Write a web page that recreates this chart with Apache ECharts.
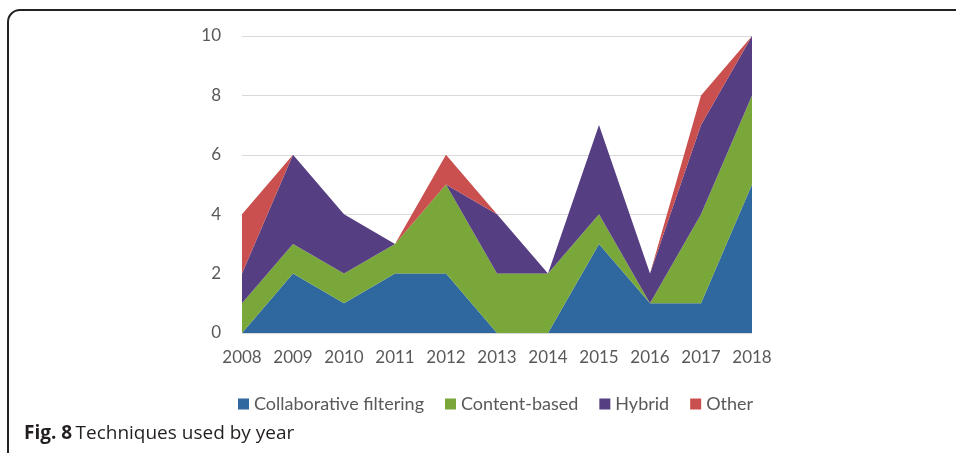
<!DOCTYPE html>
<html>
<head>
<meta charset="utf-8">
<script src="https://cdn.jsdelivr.net/npm/echarts@6/dist/echarts.min.js"></script>
<style>
  html, body { margin: 0; padding: 0; background: #fff; }
  #chart { width: 956px; height: 453px; }
</style>
</head>
<body>
<div id="chart"></div>
<script>
// Publications per year, split by recommendation technique (stacked)
const years = ['2008', '2009', '2010', '2011', '2012', '2013', '2014', '2015', '2016', '2017', '2018'];
const collaborative = [0, 2, 1, 2, 2, 0, 0, 3, 1, 1, 5];
const contentBased  = [1, 1, 1, 1, 3, 2, 2, 1, 0, 3, 3];
const hybrid        = [1, 3, 2, 0, 0, 2, 0, 3, 1, 3, 2];
const other         = [2, 0, 0, 0, 1, 0, 0, 0, 0, 1, 0];
const yTicks = { min: 0, max: 10, interval: 2 };

const font = 'Lato, "Open Sans", sans-serif';
const captionFont = '"Open Sans", "Noto Sans", sans-serif';
const colors = ['#2f679f', '#7aa73a', '#563e82', '#c9504e'];

function areaSeries(name, data, color) {
  return {
    name: name,
    type: 'line',
    stack: 'total',
    data: data,
    symbol: 'none',
    lineStyle: { width: 0 },
    areaStyle: { color: color, opacity: 1 },
    itemStyle: { color: color }
  };
}

const chart = echarts.init(document.getElementById('chart'), null, { renderer: 'canvas' });
chart.setOption({
  animation: false,
  color: colors,
  grid: { left: 242, right: 204, top: 36, bottom: 120 },
  xAxis: {
    type: 'category',
    data: years,
    boundaryGap: false,
    axisLine: { show: false },
    axisTick: { show: false },
    axisLabel: {
      color: '#595959', fontSize: 17, fontFamily: font, margin: 16,
      interval: 0, hideOverlap: false
    }
  },
  yAxis: {
    type: 'value',
    min: yTicks.min,
    max: yTicks.max,
    interval: yTicks.interval,
    axisLine: { show: false },
    axisTick: { show: false },
    splitLine: { lineStyle: { color: '#d9d9d9', width: 1 } },
    axisLabel: { color: '#595959', fontSize: 17, fontFamily: font, margin: 21 }
  },
  legend: {
    left: 233,
    top: 390,
    itemWidth: 11,
    itemHeight: 11,
    itemGap: 21,
    icon: 'rect',
    textStyle: { color: '#595959', fontSize: 18, fontFamily: font },
    data: ['Collaborative filtering', 'Content-based', 'Hybrid', 'Other']
  },
  graphic: [
    {
      // figure frame: left and top edges with a rounded corner
      type: 'rect',
      shape: { x: 8, y: 10, width: 1000, height: 500, r: [12, 0, 0, 0] },
      style: { stroke: '#222', lineWidth: 2, fill: 'rgba(0,0,0,0)' },
      silent: true
    },
    {
      type: 'text',
      left: 24,
      top: 424,
      style: {
        rich: {
          b: { fontWeight: 'bold', fontSize: 19, fill: '#231f20', fontFamily: captionFont },
          n: { fontSize: 19, fill: '#231f20', fontFamily: captionFont }
        },
        text: '{b|Fig. 8} {n|Techniques used by year}'
      }
    }
  ],
  series: [
    areaSeries('Collaborative filtering', collaborative, colors[0]),
    areaSeries('Content-based', contentBased, colors[1]),
    areaSeries('Hybrid', hybrid, colors[2]),
    areaSeries('Other', other, colors[3])
  ]
});
</script>
</body>
</html>
